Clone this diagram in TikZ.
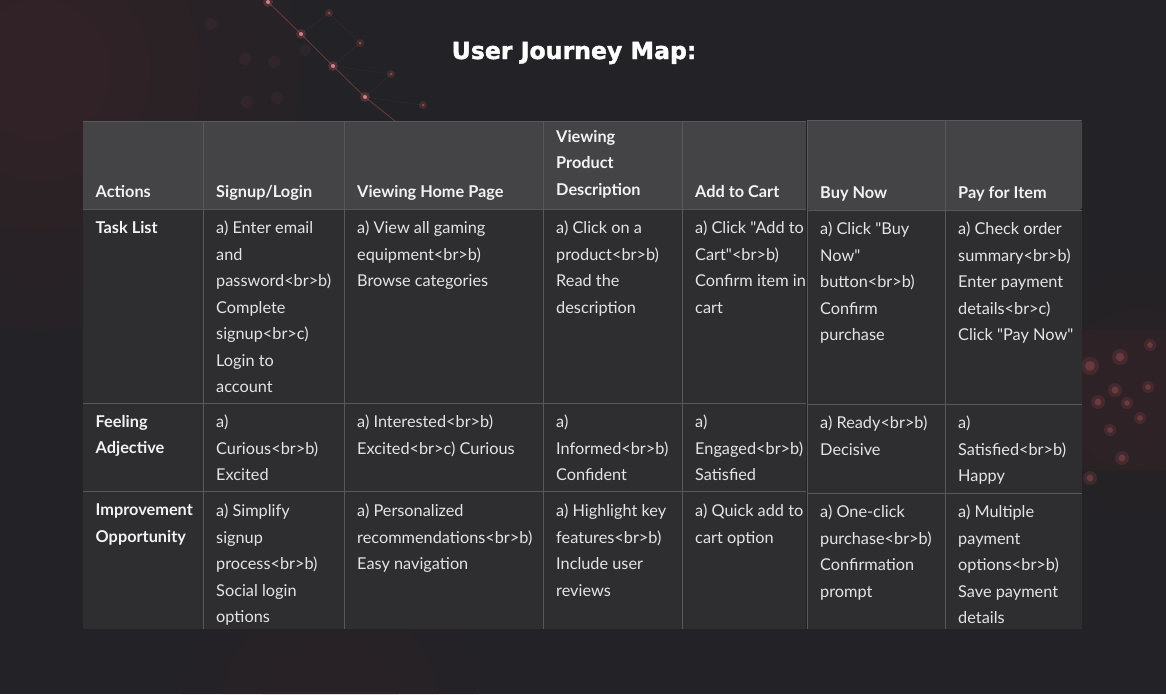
\documentclass[tikz,border=0pt]{standalone}
\usepackage{fontspec}
\setmainfont{Lato}[Ligatures=TeXOff]
\newfontfamily\titlefont[BoldFeatures={FakeBold=1.6}]{DejaVu Sans}
\definecolor{bgc}{HTML}{232226}
\definecolor{hdr}{HTML}{444446}
\definecolor{bdy}{HTML}{2E2E30}
\definecolor{grid}{HTML}{58585A}
\definecolor{txt}{HTML}{E4E4E4}
\definecolor{glow}{HTML}{E06A6A}
\definecolor{dred}{HTML}{4A2629}
\newcommand\dq{\char34\relax}
\begin{document}
\begin{tikzpicture}[x=1pt,y=-1pt,
  cellt/.style={anchor=north west,inner sep=0pt,align=left,text=txt,
    font={\fontsize{16.3}{26.5}\selectfont},execute at begin node={\rule{0pt}{14pt}}},
  headt/.style={cellt,font={\fontsize{16.3}{26.5}\selectfont\bfseries},text=white!95!black},
  gridline/.style={draw=grid,line width=1pt}]
\useasboundingbox (0,0) rectangle (1166,694);
\fill[bgc] (0,0) rectangle (1166,694);
% background glows
\foreach \r/\o in {260/0.08,210/0.08,160/0.1,110/0.1,70/0.1}{
  \fill[dred,opacity=\o] (40,70) circle (\r);}
\foreach \r/\o in {150/0.05,110/0.06,70/0.07}{
  \fill[dred,opacity=\o] (330,710) circle (\r);}
\foreach \r/\o in {120/0.06,80/0.08,50/0.1}{
  \fill[dred,opacity=\o] (1140,390) circle (\r);}
\fill[dred,opacity=0.18] (1082,330) rectangle (1166,470);
% network
\coordinate (n1) at (268,2);
\coordinate (n2) at (301,34);
\coordinate (n3) at (333,66);
\coordinate (n4) at (365,97);
\coordinate (n5) at (400,125);
\coordinate (m1) at (329,13);
\coordinate (m2) at (360,43);
\coordinate (m3) at (391,74);
\coordinate (m4) at (423,105);
\draw[glow,opacity=0.35,line width=0.8pt] (n1) -- (n2) -- (n3) -- (n4) -- (n5);
\draw[glow,opacity=0.1,line width=0.5pt] (n2) -- (m1) -- (m2) -- (n3) -- (m3) -- (n4) -- (m4);
\foreach \p in {n1,n2,n3,n4}{\fill[glow,opacity=0.2] (\p) circle (5); \fill[glow!70!white,opacity=0.8] (\p) circle (2);}
\foreach \p in {m1,m2,m3,m4}{\fill[glow,opacity=0.15] (\p) circle (4); \fill[glow,opacity=0.45] (\p) circle (1.5);}
\foreach \x/\y in {211/24,245/59,274/62,247/102,277/98,305/50}{\fill[glow,opacity=0.06] (\x,\y) circle (6);}
\foreach \x/\y/\s in {1090/366/7,1120/357/6,1148/387/4,1115/390/5,1127/403/4,1098/402/5,1150/345/4,1140/418/4,1110/430/4,1122/458/5,1090/478/5}{
  \fill[glow,opacity=0.12] (\x,\y) circle (\s+2); \fill[glow,opacity=0.25] (\x,\y) circle (\s*0.7);}
% title
\node[font={\titlefont\bfseries\fontsize{23.6}{28}\selectfont},text=white,anchor=base] (title) at (574,59) {User Journey Map:};
% left table
\fill[hdr] (83,121) rectangle (806,209);
\fill[bdy] (83,209) rectangle (806,629);
\draw[gridline] (83,121) -- (806,121);
\draw[gridline] (83,209) -- (806,209);
\draw[gridline] (83,403) -- (806,403);
\draw[gridline] (83,491) -- (806,491);
\foreach \x in {203,344,543,682}{\draw[gridline] (\x,121) -- (\x,629);}
% right table
\fill[hdr,rounded corners=3pt] (807,210) -- (807,120) -- (1082,120) -- (1082,210) -- cycle;
\fill[bdy] (807,210) rectangle (1082,629);
\draw[gridline] (807,120) -- (1082,120);
\draw[gridline] (807,210) -- (1082,210);
\draw[gridline] (807,404) -- (1082,404);
\draw[gridline] (807,493) -- (1082,493);
\foreach \x in {807,945}{\draw[gridline] (\x,120) -- (\x,629);}
% headers
\node[headt] (h1) at (95.5,183) {Actions};
\node[headt] (h2) at (216,183) {Signup/Login};
\node[headt] (h3) at (357,183) {Viewing Home Page};
\node[headt] (h4) at (556,130) {Viewing\\Product\\Description};
\node[headt] (h5) at (695,183) {Add to Cart};
\node[headt] (h6) at (820,184) {Buy Now};
\node[headt] (h7) at (958,184) {Pay for Item};
% row 1
\node[headt] (a1) at (95.5,219) {Task List};
\node[cellt] (a2) at (216,221) {a) Enter email\\and\\password<br>b)\\Complete\\signup<br>c)\\Login to\\account};
\node[cellt] (a3) at (357,221) {a) View all gaming\\equipment<br>b)\\Browse categories};
\node[cellt] (a4) at (556,221) {a) Click on a\\product<br>b)\\Read the\\description};
\node[cellt] (a5) at (695,221) {a) Click \dq Add to\\Cart\dq<br>b)\\Confirm item in\\cart};
\node[cellt] (a6) at (820,222) {a) Click \dq Buy\\Now\dq\\button<br>b)\\Confirm\\purchase};
\node[cellt] (a7) at (958,222) {a) Check order\\summary<br>b)\\Enter payment\\details<br>c)\\Click \dq Pay Now\dq};
% row 2
\node[headt] (b1) at (95.5,415) {Feeling\\Adjective};
\node[cellt] (b2) at (216,415) {a)\\Curious<br>b)\\Excited};
\node[cellt] (b3) at (357,415) {a) Interested<br>b)\\Excited<br>c) Curious};
\node[cellt] (b4) at (556,415) {a)\\Informed<br>b)\\Confident};
\node[cellt] (b5) at (695,415) {a)\\Engaged<br>b)\\Satisfied};
\node[cellt] (b6) at (820,416) {a) Ready<br>b)\\Decisive};
\node[cellt] (b7) at (958,416) {a)\\Satisfied<br>b)\\Happy};
% row 3
\node[headt] (c1) at (95.5,504) {Improvement\\Opportunity};
\node[cellt] (c2) at (216,504) {a) Simplify\\signup\\process<br>b)\\Social login\\options};
\node[cellt] (c3) at (357,504) {a) Personalized\\recommendations<br>b)\\Easy navigation};
\node[cellt] (c4) at (556,504) {a) Highlight key\\features<br>b)\\Include user\\reviews};
\node[cellt] (c5) at (695,504) {a) Quick add to\\cart option};
\node[cellt] (c6) at (820,505) {a) One-click\\purchase<br>b)\\Confirmation\\prompt};
\node[cellt] (c7) at (958,505) {a) Multiple\\payment\\options<br>b)\\Save payment\\details};
\end{tikzpicture}
\end{document}
